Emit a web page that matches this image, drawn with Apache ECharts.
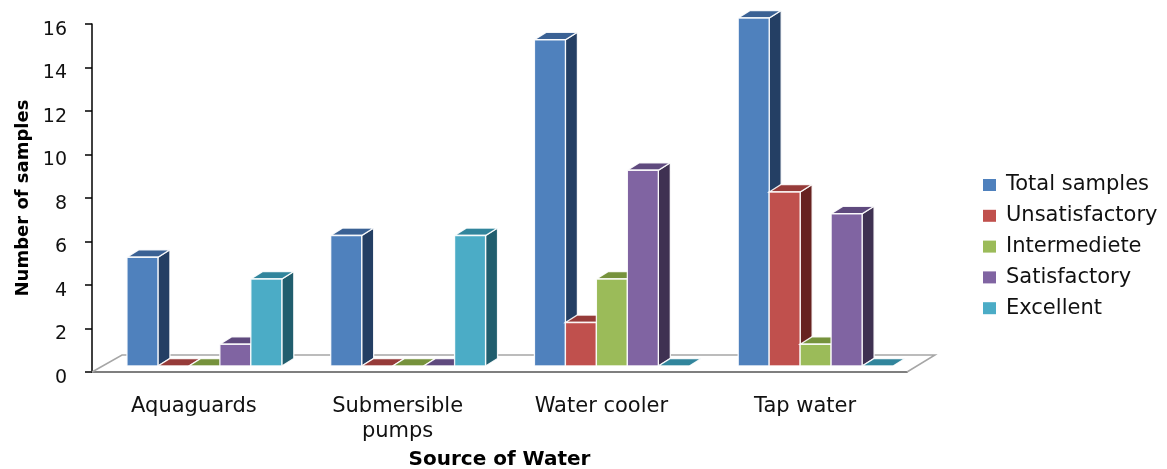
<!DOCTYPE html>
<html>
<head>
<meta charset="utf-8">
<style>
  html, body { margin: 0; padding: 0; background: #fff; }
  #chart { width: 1167px; height: 469px; }
</style>
<script src="https://cdn.jsdelivr.net/npm/echarts@6/dist/echarts.min.js"></script>
</head>
<body>
<div id="chart"></div>
<script>
// Water quality of samples grouped by source
const categories = ['Aquaguards', 'Submersible\npumps', 'Water cooler', 'Tap water'];
const seriesNames = ['Total samples', 'Unsatisfactory', 'Intermediete', 'Satisfactory', 'Excellent'];
const totalSamples   = [5, 6, 15, 16];
const unsatisfactory = [0, 0, 2, 8];
const intermediete   = [0, 0, 4, 1];
const satisfactory   = [1, 0, 9, 7];
const excellent      = [4, 6, 0, 0];
const yMin = 0, yMax = 16, yStep = 2;

const seriesValues = [totalSamples, unsatisfactory, intermediete, satisfactory, excellent];

// front / top / side shades for each bar colour
const shades = [
  { front: '#4F81BD', top: '#3A6194', side: '#243F64' },
  { front: '#C0504D', top: '#963B39', side: '#672220' },
  { front: '#9BBB59', top: '#76923C', side: '#5A7030' },
  { front: '#8064A2', top: '#5F4A7E', side: '#3F3152' },
  { front: '#4BACC6', top: '#31859C', side: '#215E6E' }
];

// pseudo-3D geometry (pixels)
const BAR_RATIO = 0.152;               // bar width as share of a category band
const FRONT_DX = 10.5, FRONT_DY = 6;   // bar front plane offset from floor front edge
const DEPTH_DX = 12, DEPTH_DY = 7.5;   // bar depth projection
const FLOOR_DX_L = 30, FLOOR_DX_R = 28, FLOOR_DY = 17;
const EDGE = { stroke: 'rgba(255,255,255,0.9)', lineWidth: 1.3 };

function barRenderer(idx) {
  return function (params, api) {
    const cat = api.value(0);
    const val = api.value(1);
    const band = api.size([1, 0])[0];
    const base = api.coord([cat, 0]);
    const head = api.coord([cat, val]);
    const w = band * BAR_RATIO;
    const x0 = base[0] + FRONT_DX - (w * seriesNames.length) / 2 + idx * w;
    const x1 = x0 + w;
    const yb = base[1] - FRONT_DY;
    const yt = head[1] - FRONT_DY;
    const c = shades[idx];
    const children = [];
    if (yb - yt > 0.5) {
      children.push({
        type: 'polygon',
        shape: { points: [[x1, yt], [x1 + DEPTH_DX, yt - DEPTH_DY], [x1 + DEPTH_DX, yb - DEPTH_DY], [x1, yb]] },
        style: Object.assign({ fill: c.side }, EDGE)
      });
    }
    children.push({
      type: 'polygon',
      shape: { points: [[x0, yt], [x1, yt], [x1 + DEPTH_DX, yt - DEPTH_DY], [x0 + DEPTH_DX, yt - DEPTH_DY]] },
      style: Object.assign({ fill: c.top }, EDGE)
    });
    if (yb - yt > 0.5) {
      children.push({
        type: 'rect',
        shape: { x: x0, y: yt, width: w, height: yb - yt },
        style: Object.assign({ fill: c.front }, EDGE)
      });
    }
    return { type: 'group', children: children };
  };
}

// floor outline behind the bars
function floorRenderer(params, api) {
  const cs = params.coordSys;
  const yf = cs.y + cs.height;
  return {
    type: 'polyline',
    shape: {
      points: [
        [cs.x, yf],
        [cs.x + FLOOR_DX_L, yf - FLOOR_DY],
        [cs.x + cs.width + FLOOR_DX_R, yf - FLOOR_DY],
        [cs.x + cs.width, yf]
      ]
    },
    style: { stroke: '#A6A6A6', lineWidth: 1.5, fill: null }
  };
}

const series = [{
  type: 'custom',
  name: 'floor',
  renderItem: floorRenderer,
  data: [[0, 0]],
  silent: true,
  z: 1,
  clip: false
}];

seriesNames.forEach(function (name, i) {
  series.push({
    type: 'custom',
    name: name,
    renderItem: barRenderer(i),
    itemStyle: { color: shades[i].front },
    data: categories.map(function (_, k) { return [k, seriesValues[i][k]]; }),
    encode: { x: 0, y: 1 },
    clip: false,
    z: 2
  });
});

const chart = echarts.init(document.getElementById('chart'), null, { renderer: 'canvas' });
chart.setOption({
  animation: false,
  backgroundColor: '#fff',
  textStyle: { fontFamily: 'DejaVu Sans' },
  grid: { left: 92, right: 260, top: 24, bottom: 97, containLabel: false, outerBoundsMode: 'none' },
  legend: {
    data: seriesNames,
    orient: 'vertical',
    left: 983,
    top: 174.5,
    padding: 0,
    itemWidth: 13,
    itemHeight: 12,
    itemGap: 9.8,
    icon: 'rect',
    textStyle: { fontFamily: 'DejaVu Sans', fontSize: 21, color: '#111', lineHeight: 20, padding: [0, 0, 0, 5] }
  },
  xAxis: {
    type: 'category',
    data: categories,
    boundaryGap: true,
    name: 'Source of Water',
    nameLocation: 'middle',
    nameGap: 78,
    nameTextStyle: { fontFamily: 'DejaVu Sans', fontWeight: 'bold', fontSize: 20, color: '#000' },
    axisLine: { lineStyle: { color: '#7F7F7F', width: 2 } },
    axisTick: { show: false },
    axisLabel: { fontFamily: 'DejaVu Sans', fontSize: 21, color: '#111', margin: 22, lineHeight: 25, interval: 0 },
    splitLine: { show: false }
  },
  yAxis: {
    type: 'value',
    min: yMin,
    max: yMax,
    interval: yStep,
    name: 'Number of samples',
    nameLocation: 'middle',
    nameGap: 60,
    nameTextStyle: { fontFamily: 'DejaVu Sans', fontWeight: 'bold', fontSize: 18, color: '#000' },
    axisLine: { show: true, lineStyle: { color: '#000', width: 1.5 } },
    axisTick: { show: true, length: 7, lineStyle: { color: '#000', width: 1.5 } },
    axisLabel: { fontFamily: 'DejaVu Sans', fontSize: 19, color: '#111', margin: 25, verticalAlign: 'top', lineHeight: 12 },
    splitLine: { show: false }
  },
  series: series
});
</script>
</body>
</html>
